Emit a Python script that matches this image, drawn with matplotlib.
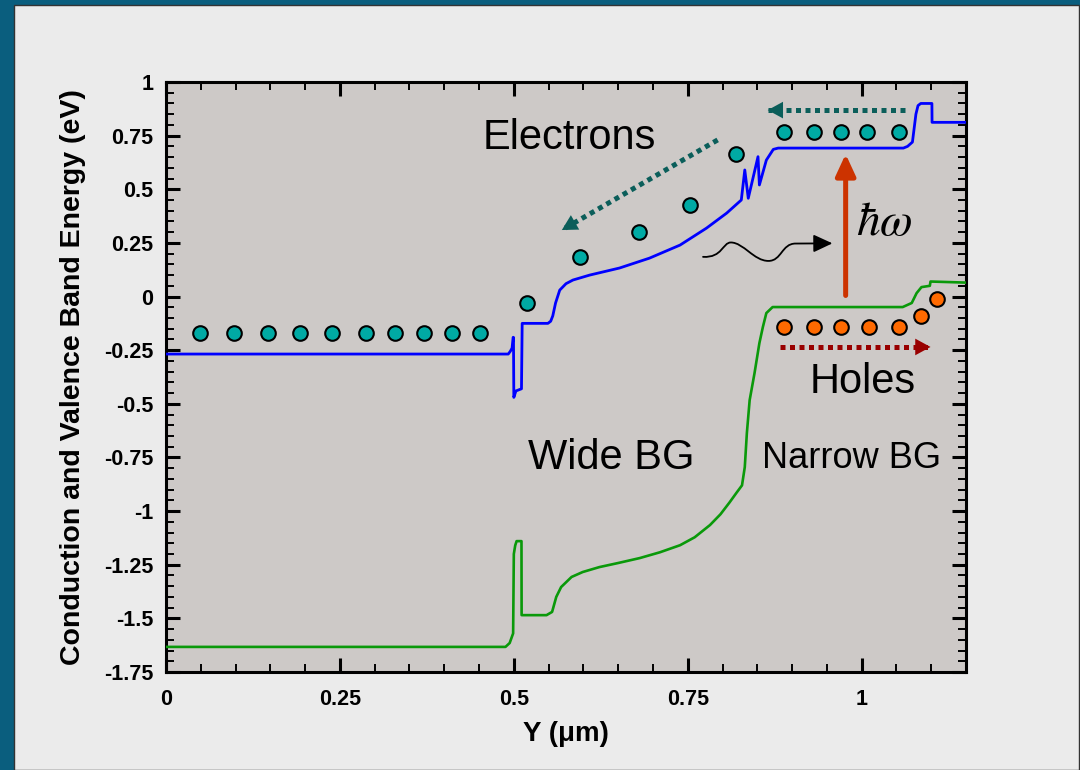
import matplotlib
matplotlib.use("Agg")
import matplotlib.pyplot as plt
from matplotlib.patches import Rectangle, FancyArrowPatch
from matplotlib.path import Path
from matplotlib.ticker import MultipleLocator

plt.rcParams['font.family'] = ['Liberation Sans', 'DejaVu Sans']
plt.rcParams['mathtext.fontset'] = 'stix'

# conduction band (blue)
cb_x = [0, 0.492, 0.495, 0.4975, 0.499, 0.4995, 0.500, 0.503, 0.511, 0.512, 0.549,
        0.553, 0.556, 0.560, 0.566, 0.575, 0.585, 0.609, 0.652, 0.695, 0.739, 0.777,
        0.806, 0.827, 0.832, 0.837, 0.851, 0.853, 0.863, 0.873, 0.880, 1.060, 1.066,
        1.073, 1.078, 1.081, 1.085, 1.101, 1.1012, 1.15]
cb_y = [-0.268, -0.268, -0.255, -0.24, -0.19, -0.19, -0.47, -0.44, -0.43, -0.125, -0.125,
        -0.115, -0.09, -0.03, 0.03, 0.06, 0.077, 0.100, 0.133, 0.179, 0.240, 0.319,
        0.389, 0.450, 0.590, 0.458, 0.652, 0.520, 0.636, 0.686, 0.692, 0.692, 0.700,
        0.720, 0.850, 0.890, 0.900, 0.900, 0.812, 0.812]

# valence band (green)
vb_x = [0, 0.488, 0.494, 0.499, 0.500, 0.502, 0.504, 0.511, 0.5112, 0.547, 0.555,
        0.561, 0.568, 0.583, 0.599, 0.623, 0.650, 0.681, 0.710, 0.739, 0.760, 0.782,
        0.797, 0.810, 0.820, 0.828, 0.832, 0.835, 0.839, 0.846, 0.853, 0.858, 0.863,
        0.872, 1.059, 1.072, 1.079, 1.086, 1.098, 1.099, 1.15]
vb_y = [-1.633, -1.633, -1.615, -1.57, -1.20, -1.16, -1.14, -1.14, -1.485, -1.485, -1.47,
        -1.40, -1.354, -1.307, -1.284, -1.261, -1.242, -1.219, -1.192, -1.159, -1.122, -1.065,
        -1.015, -0.960, -0.915, -0.88, -0.795, -0.636, -0.483, -0.357, -0.217, -0.142, -0.077,
        -0.049, -0.049, -0.03, 0.016, 0.044, 0.05, 0.07, 0.065]

# electrons (teal dots)
el_x = [0.049, 0.098, 0.147, 0.193, 0.239, 0.287, 0.329, 0.371, 0.411, 0.451,
        0.519, 0.595, 0.680, 0.753, 0.820, 0.888, 0.931, 0.971, 1.008, 1.053]
el_y = [-0.17] * 10 + [-0.03, 0.184, 0.30, 0.427, 0.664, 0.767, 0.767, 0.767, 0.767, 0.767]

# holes (orange dots)
ho_x = [0.889, 0.932, 0.971, 1.010, 1.053, 1.085, 1.108]
ho_y = [-0.142, -0.142, -0.142, -0.142, -0.142, -0.09, -0.01]

# photon squiggle key points
wave_pts = [(0.772, 0.185), (0.800, 0.180), (0.800, 0.252), (0.812, 0.252),
            (0.830, 0.252), (0.845, 0.166), (0.866, 0.166),
            (0.885, 0.166), (0.885, 0.247), (0.905, 0.247), (0.958, 0.248)]

xticks = [0, 0.25, 0.5, 0.75, 1]
xtick_labels = ['0', '0.25', '0.5', '0.75', '1']
yticks = [1, 0.75, 0.5, 0.25, 0, -0.25, -0.5, -0.75, -1, -1.25, -1.5, -1.75]
ytick_labels = ['1', '0.75', '0.5', '0.25', '0', '-0.25', '-0.5', '-0.75', '-1', '-1.25', '-1.5', '-1.75']


def dotted_arrow(ax, start, end, color):
    ax.plot([start[0], end[0]], [start[1], end[1]], color=color, lw=3.6,
            linestyle=(0, (1, 0.9)), dash_capstyle='butt', zorder=4)
    ax.annotate('', xy=end, xytext=start,
                arrowprops=dict(arrowstyle='-|>,head_length=0.55,head_width=0.3',
                                color=color, lw=0, mutation_scale=20,
                                shrinkA=0, shrinkB=0), zorder=5)


fig = plt.figure(figsize=(10.8, 7.7), dpi=100)
fig.patch.set_facecolor('#0a5e7e')
fig.add_artist(Rectangle((13.5 / 1080, 0), (1079 - 13.5) / 1080, 765 / 770,
                         transform=fig.transFigure, facecolor='#ebebeb',
                         edgecolor='#333333', lw=1.0, zorder=-1))

ax = fig.add_axes([166 / 1080, 1 - 672 / 770, 800 / 1080, 590 / 770])
ax.set_facecolor('#cdc9c7')
ax.set_xlim(0, 1.15)
ax.set_ylim(-1.75, 1)

ax.plot(cb_x, cb_y, color='#0000ff', lw=2.0, zorder=3)
ax.plot(vb_x, vb_y, color='#0a990a', lw=1.9, zorder=3)

ax.plot(el_x, el_y, 'o', ms=10.5, mfc='#00aaa4', mec='black', mew=1.5, zorder=6)
ax.plot(ho_x, ho_y, 'o', ms=10.5, mfc='#ff6a00', mec='black', mew=1.5, zorder=6)

dotted_arrow(ax, (0.793, 0.730), (0.569, 0.310), '#0b5e5a')
dotted_arrow(ax, (1.062, 0.869), (0.865, 0.869), '#0b5e5a')
dotted_arrow(ax, (0.882, -0.235), (1.099, -0.235), '#990000')

ax.annotate('', xy=(0.977, 0.664), xytext=(0.977, 0.005),
            arrowprops=dict(arrowstyle='-|>,head_length=0.65,head_width=0.3',
                            color='#cc3300', lw=3.6, mutation_scale=20,
                            shrinkA=0, shrinkB=0), zorder=5)

codes = [Path.MOVETO] + [Path.CURVE4] * 9 + [Path.LINETO]
wave = FancyArrowPatch(path=Path(wave_pts, codes),
                       arrowstyle='-|>,head_length=0.58,head_width=0.27',
                       mutation_scale=20, lw=1.3, color='black',
                       transform=ax.transData, zorder=5)
ax.add_patch(wave)

ax.text(0.455, 0.688, 'Electrons', fontsize=30, ha='left', va='baseline')
ax.text(0.925, -0.450, 'Holes', fontsize=30, ha='left', va='baseline')
ax.text(0.521, -0.804, 'Wide BG', fontsize=30, ha='left', va='baseline')
ax.text(0.857, -0.800, 'Narrow BG', fontsize=26, ha='left', va='baseline')
ax.text(0.992, 0.287, r'$\hbar\omega$', fontsize=34, ha='left', va='baseline')

ax.set_xticks(xticks)
ax.set_xticklabels(xtick_labels)
ax.set_yticks(yticks)
ax.set_yticklabels(ytick_labels)
ax.xaxis.set_minor_locator(MultipleLocator(0.05))
ax.yaxis.set_minor_locator(MultipleLocator(0.05))
ax.tick_params(which='both', direction='in', top=True, right=True, colors='black')
ax.tick_params(which='major', length=10, width=2.2)
ax.tick_params(which='minor', length=6, width=1.4)
ax.tick_params(axis='x', which='major', pad=12)
ax.tick_params(axis='y', which='major', pad=9)
for lab in ax.get_xticklabels() + ax.get_yticklabels():
    lab.set_fontsize(15.5)
    lab.set_fontweight('bold')
for sp in ax.spines.values():
    sp.set_linewidth(2.2)

ax.set_xlabel('Y (μm)', fontsize=20, fontweight='bold', labelpad=8)
ax.set_ylabel('Conduction and Valence Band Energy (eV)', fontsize=20.5,
              fontweight='bold', labelpad=13)

fig.savefig('out.png', dpi=100, facecolor=fig.get_facecolor())
